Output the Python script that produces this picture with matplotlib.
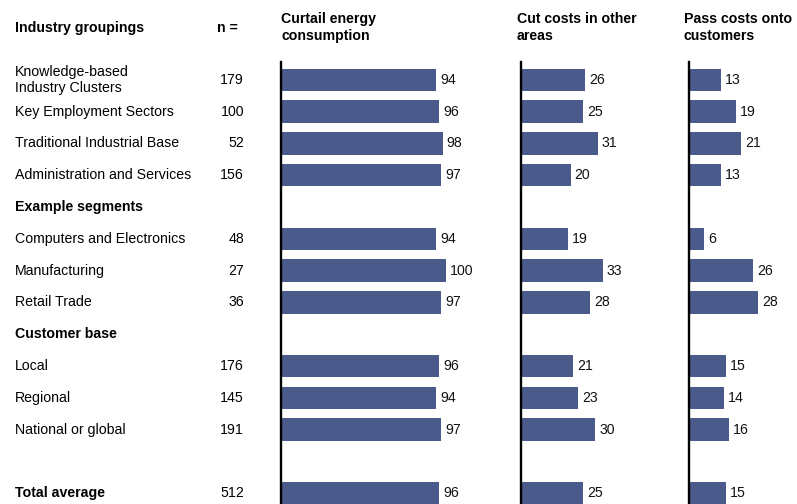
import matplotlib
matplotlib.use("Agg")
import matplotlib.pyplot as plt
import matplotlib.transforms as mtransforms
import numpy as np

plt.rcParams['font.family'] = ['Liberation Sans', 'DejaVu Sans']

labels = ["Knowledge-based\nIndustry Clusters", "Key Employment Sectors",
          "Traditional Industrial Base", "Administration and Services",
          "Example segments", "Computers and Electronics", "Manufacturing",
          "Retail Trade", "Customer base", "Local", "Regional",
          "National or global", "", "Total average"]
bold_rows = [4, 8, 13]
n_values = ["179", "100", "52", "156", "", "48", "27", "36", "", "176", "145", "191", "", "512"]
curtail = [94, 96, 98, 97, None, 94, 100, 97, None, 96, 94, 97, None, 96]
cut_costs = [26, 25, 31, 20, None, 19, 33, 28, None, 21, 23, 30, None, 25]
pass_costs = [13, 19, 21, 13, None, 6, 26, 28, None, 15, 14, 16, None, 15]
titles = ["Curtail energy\nconsumption", "Cut costs in other\nareas", "Pass costs onto\ncustomers"]

W, H = 797, 504
fig = plt.figure(figsize=(W / 100, H / 100), dpi=100)
BAR = "#4a5a8b"
FS = 10.2

top_px, bot_px = 62, 504
row0, step = 79.8, 31.8
y_top = (top_px - row0) / step
y_bot = (bot_px - row0) / step

panels = [(281, 1.65, curtail, 281, 470), (521, 2.48, cut_costs, 517, 670), (689, 2.48, pass_costs, 684, W)]
axes = []
for (left, scale, vals, tx, right), title in zip(panels, titles):
    xmax = (right - left) / scale
    ax = fig.add_axes([left / W, 0, (right - left) / W, (H - top_px) / H])
    ax.set_xlim(0, xmax)
    ax.set_ylim(y_bot, y_top)
    idx = [i for i, v in enumerate(vals) if v is not None]
    v = [vals[i] for i in idx]
    ax.barh(idx, v, height=0.71, color=BAR, edgecolor='none')
    for i, val in zip(idx, v):
        ax.annotate(f"{val}", (val, i), xytext=(4, 0), textcoords='offset pixels',
                    va='center', ha='left', fontsize=FS, color='#111111')
    for s in ['top', 'right', 'bottom']:
        ax.spines[s].set_visible(False)
    ax.spines['left'].set_linewidth(1.7)
    ax.spines['left'].set_color('black')
    ax.set_xticks([])
    ax.set_yticks([])
    ax.patch.set_alpha(0)
    fig.text(tx / W, 1 - 27.5 / H, title, fontsize=FS, fontweight='bold',
             ha='left', va='center', linespacing=1.2)
    axes.append(ax)

trans = mtransforms.blended_transform_factory(fig.transFigure, axes[0].transData)
for i, lab in enumerate(labels):
    if not lab:
        continue
    fig.text(15 / W, i, lab, transform=trans, fontsize=FS, ha='left', va='center',
             fontweight='bold' if i in bold_rows else 'normal',
             linespacing=1.15)
    if n_values[i]:
        fig.text(244 / W, i, n_values[i], transform=trans, fontsize=FS, ha='right', va='center')

fig.text(15 / W, 1 - 28 / H, "Industry groupings", fontsize=FS, fontweight='bold', ha='left', va='center')
fig.text(217 / W, 1 - 28 / H, "n =", fontsize=FS, fontweight='bold', ha='left', va='center')

fig.savefig("out.png", dpi=100)
